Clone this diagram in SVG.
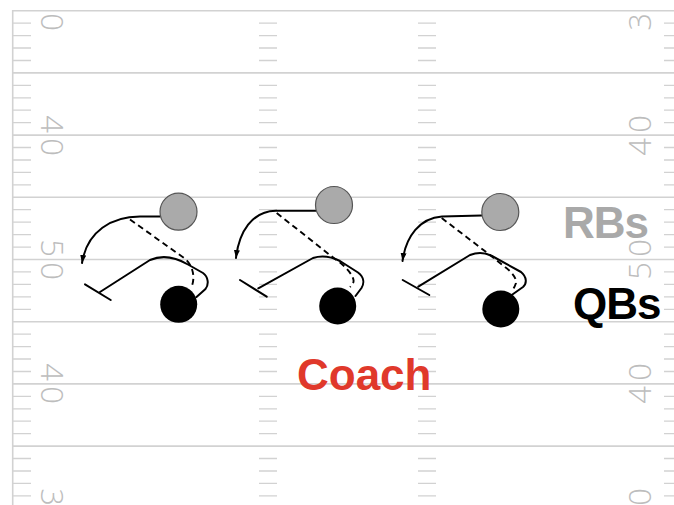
<svg xmlns="http://www.w3.org/2000/svg" xmlns:xlink="http://www.w3.org/1999/xlink" width="674" height="505" viewBox="0 0 674 505">
<style>
.yl{stroke:#d2d2d2;stroke-width:1.6;fill:none}
.tk{stroke:#d2d2d2;stroke-width:1.3;fill:none}
.num{font-family:"Open Sans","Liberation Sans",sans-serif;font-weight:300;font-size:31px;fill:#bdbdbd;text-anchor:middle}
.rb{fill:#aaaaaa;stroke:#555555;stroke-width:1.2}
.qb{fill:#000000}
.route{fill:none;stroke:#000000;stroke-width:2;stroke-linecap:round;stroke-linejoin:round}
.dash{fill:none;stroke:#000000;stroke-width:1.9;stroke-dasharray:6 4}
.lbl{font-family:"Liberation Sans",Arial,sans-serif;font-weight:bold;font-size:44px}
</style>
<defs>
<marker id="arr" markerUnits="userSpaceOnUse" markerWidth="10" markerHeight="10" refX="8" refY="3" orient="auto">
<path d="M0,0 L8,3 L0,6 z" fill="#000"/>
</marker>
<path id="ticks" class="tk" d="M0,23.1h18M0,35.6h18M0,48h18M0,60.5h18M0,85.3h18M0,97.8h18M0,110.2h18M0,122.7h18M0,147.5h18M0,160h18M0,172.4h18M0,184.9h18M0,209.7h18M0,222.2h18M0,234.6h18M0,247.1h18M0,271.9h18M0,284.4h18M0,296.8h18M0,309.3h18M0,334.1h18M0,346.6h18M0,359h18M0,371.5h18M0,396.3h18M0,408.8h18M0,421.2h18M0,433.7h18M0,458.5h18M0,471h18M0,483.4h18M0,495.9h18"/>
</defs>
<rect width="674" height="505" fill="#ffffff"/>
<g id="field">
<path class="yl" d="M12.7,505V10.7H674M12.7,72.9H674M12.7,135.1H674M12.7,197.3H674M12.7,259.5H674M12.7,321.7H674M12.7,383.9H674M12.7,446.1H674"/>
<use xlink:href="#ticks" x="13"/>
<use xlink:href="#ticks" x="259"/>
<use xlink:href="#ticks" x="418"/>
<use xlink:href="#ticks" x="664"/>
<text class="num" transform="translate(41,22) rotate(90)">0</text>
<text class="num" transform="translate(41,124) rotate(90)">4</text>
<text class="num" transform="translate(41,147) rotate(90)">0</text>
<text class="num" transform="translate(41,248) rotate(90)">5</text>
<text class="num" transform="translate(41,271) rotate(90)">0</text>
<text class="num" transform="translate(41,372) rotate(90)">4</text>
<text class="num" transform="translate(41,395) rotate(90)">0</text>
<text class="num" transform="translate(41,497) rotate(90)">3</text>
<text class="num" transform="translate(651,22) rotate(-90)">3</text>
<text class="num" transform="translate(651,124) rotate(-90)">0</text>
<text class="num" transform="translate(651,147) rotate(-90)">4</text>
<text class="num" transform="translate(651,248) rotate(-90)">0</text>
<text class="num" transform="translate(651,271) rotate(-90)">5</text>
<text class="num" transform="translate(651,372) rotate(-90)">0</text>
<text class="num" transform="translate(651,395) rotate(-90)">4</text>
<text class="num" transform="translate(651,497) rotate(-90)">0</text>
</g>
<g id="connectors">
<path class="route" marker-end="url(#arr)" d="M160,216.5 L140,216.5 C112,216.5 87,231 82,263"/>
<path class="dash" d="M130,219.5 L184,258 C192,264 196,276 191.5,287"/>
<path class="route" d="M196.5,297 L205.5,289 C209,284.5 208.5,277 203,273 L188,264.5 C176,257.5 164,254 150,260 L100,292"/>
<path class="route" d="M85,284.3 L110.7,300"/>

<path class="route" marker-end="url(#arr)" d="M315.7,210.7 L276,210.7 C252,211 239,232 236,258"/>
<path class="dash" d="M276.7,213 L335,259 C344,265 352,273 353.5,280 C354,283 352,285 350,287"/>
<path class="route" d="M355.5,296 L361.5,288 C364.5,283 364,277 358,272.5 L340,261 C330,256 322,255 313,258 L258.3,288.3"/>
<path class="route" d="M240,280 L266.7,296.7"/>

<path class="route" marker-end="url(#arr)" d="M481.7,215.5 L442,216.5 C420,218 406,236 402.5,261"/>
<path class="dash" d="M441.7,218 L490,255 L505,267 C512,272 517,279 516,283 C515,286 514,288 513,289"/>
<path class="route" d="M511.7,295 L523,287 C527,283.5 527,277 521,272 L492,256 C485,252.5 478,252 470,255 L418.3,286.7"/>
<path class="route" d="M402.7,280 L429.3,295"/>
</g>
<g id="rb1"><circle class="rb" cx="178.5" cy="211.7" r="18.5"/></g>
<g id="qb1"><circle class="qb" cx="178.7" cy="304.3" r="18.5"/></g>
<g id="rb2"><circle class="rb" cx="334" cy="205" r="18.5"/></g>
<g id="qb2"><circle class="qb" cx="337.7" cy="306" r="18.5"/></g>
<g id="rb3"><circle class="rb" cx="500.3" cy="212" r="18.5"/></g>
<g id="qb3"><circle class="qb" cx="500.8" cy="309" r="18.5"/></g>
<g id="labels">
<text class="lbl" x="563" y="238" fill="#a9a9a9" letter-spacing="-1">RBs</text>
<text class="lbl" x="573" y="319" fill="#000000" letter-spacing="-1">QBs</text>
<text class="lbl" x="297" y="390" fill="#e0392b">Coach</text>
</g>
</svg>
